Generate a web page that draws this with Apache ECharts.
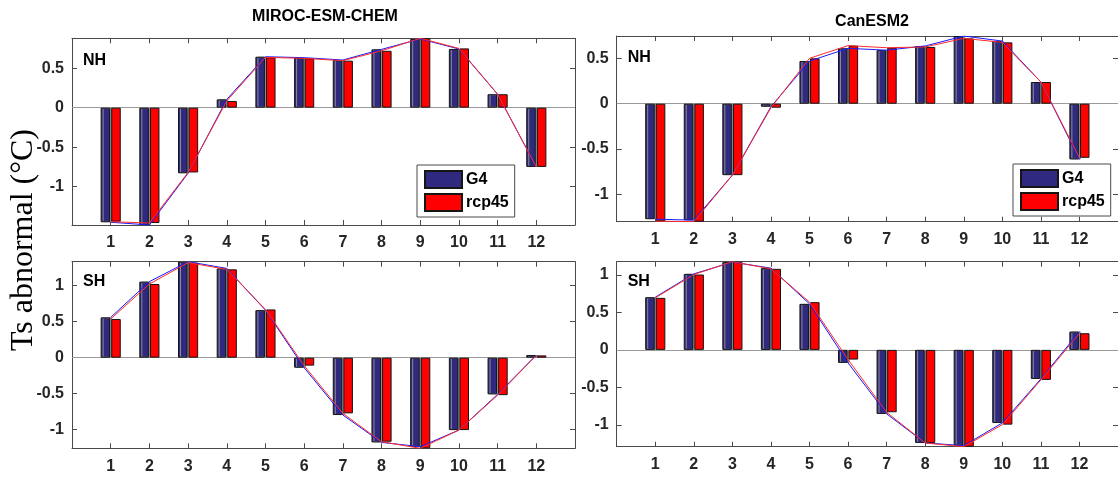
<!DOCTYPE html>
<html>
<head>
<meta charset="utf-8">
<title>Ts abnormal – monthly, G4 vs rcp45</title>
<script src="https://cdn.jsdelivr.net/npm/echarts@6.0.0/dist/echarts.min.js"></script>
<style>
  html, body { margin: 0; padding: 0; background: #ffffff; }
  #chart { width: 1118px; height: 480px; }
</style>
</head>
<body>
<div id="chart"></div>
<script>
// Months on the x axis
const months = [1, 2, 3, 4, 5, 6, 7, 8, 9, 10, 11, 12];

// MIROC-ESM-CHEM, northern hemisphere (°C)
const mirocNhG4  = [-1.45, -1.485, -0.83, 0.105, 0.645, 0.633, 0.603, 0.738, 0.87, 0.743, 0.17, -0.75];
const mirocNhRcp = [-1.443, -1.46, -0.82, 0.085, 0.637, 0.624, 0.595, 0.72, 0.878, 0.75, 0.17, -0.75];
// MIROC-ESM-CHEM, southern hemisphere (°C)
const mirocShG4  = [0.56, 1.056, 1.333, 1.24, 0.66, -0.139, -0.796, -1.176, -1.236, -1.005, -0.509, 0.037];
const mirocShRcp = [0.537, 1.023, 1.32, 1.227, 0.67, -0.11, -0.773, -1.167, -1.258, -1.005, -0.52, 0.032];
// CanESM2, northern hemisphere (°C)
const canNhG4  = [-1.272, -1.283, -0.787, -0.033, 0.47, 0.61, 0.59, 0.636, 0.746, 0.69, 0.239, -0.614];
const canNhRcp = [-1.294, -1.30, -0.787, -0.044, 0.5, 0.64, 0.617, 0.625, 0.72, 0.676, 0.239, -0.596];
// CanESM2, southern hemisphere (°C)
const canShG4  = [0.702, 1.013, 1.169, 1.089, 0.613, -0.173, -0.853, -1.24, -1.276, -0.973, -0.387, 0.244];
const canShRcp = [0.693, 1.004, 1.175, 1.08, 0.636, -0.129, -0.831, -1.24, -1.29, -0.996, -0.4, 0.222];

// Tick values on the temperature axes
const yTicksNh = [-1, -0.5, 0, 0.5];
const yTicksSh = [-1, -0.5, 0, 0.5, 1];

const seriesNames = ['G4', 'rcp45'];
const modelTitles = ['MIROC-ESM-CHEM', 'CanESM2'];
const hemiLabels = ['NH', 'SH'];

// ---- layout and styling ----
const SANS = '"Liberation Sans", Arial, Helvetica, sans-serif';
const AXIS_COLOR = '#262626';
const BOX_COLOR = '#4a4a4a';
const G4_FILL = '#2f2a80';
const RCP_FILL = '#ff0000';

const panels = [
  { g4: mirocNhG4, rcp: mirocNhRcp, ticks: yTicksNh, hemi: hemiLabels[0],
    grid: { left: 72, top: 38.3, width: 503, height: 186.7 } },
  { g4: canNhG4, rcp: canNhRcp, ticks: yTicksNh, hemi: hemiLabels[0],
    grid: { left: 616.7, top: 36, width: 506.3, height: 185.7 } },
  { g4: mirocShG4, rcp: mirocShRcp, ticks: yTicksSh, hemi: hemiLabels[1],
    grid: { left: 72, top: 261.7, width: 503, height: 186.6 } },
  { g4: canShG4, rcp: canShRcp, ticks: yTicksSh, hemi: hemiLabels[1],
    grid: { left: 616.7, top: 261.7, width: 506.3, height: 185 } }
];

const labelFont = { color: AXIS_COLOR, fontSize: 16, fontWeight: 'bold', fontFamily: SANS };
const lineCol = { color: BOX_COLOR, width: 1 };

const grids = [], xAxes = [], yAxes = [], series = [], graphics = [];

panels.forEach((p, i) => {
  grids.push(Object.assign({ containLabel: false }, p.grid));
  const all = p.g4.concat(p.rcp);
  const yMin = Math.min.apply(null, all);
  const yMax = Math.max.apply(null, all);

  // bottom and top month axes
  ['bottom', 'top'].forEach(pos => {
    xAxes.push({
      type: 'value', gridIndex: i, position: pos, min: 0, max: 13,
      axisLine: { show: true, onZero: false, lineStyle: lineCol },
      axisTick: { show: true, inside: true, length: 5, customValues: months, lineStyle: lineCol },
      axisLabel: pos === 'bottom'
        ? Object.assign({ show: true, margin: 10, customValues: months }, labelFont)
        : { show: false },
      splitLine: { show: false }
    });
  });
  // left and right temperature axes
  ['left', 'right'].forEach(pos => {
    yAxes.push({
      type: 'value', gridIndex: i, position: pos, min: yMin, max: yMax,
      axisLine: { show: true, onZero: false, lineStyle: lineCol },
      axisTick: { show: true, inside: true, length: 5, customValues: p.ticks, lineStyle: lineCol },
      axisLabel: pos === 'left'
        ? Object.assign({ show: true, margin: 8, customValues: p.ticks }, labelFont)
        : { show: false },
      splitLine: { show: false }
    });
  });

  const xi = i * 2, yi = i * 2;
  series.push({
    name: seriesNames[0], type: 'bar', xAxisIndex: xi, yAxisIndex: yi,
    data: months.map((m, k) => [m, p.g4[k]]),
    barWidth: 9.5, barGap: '12%',
    itemStyle: { color: G4_FILL, borderColor: '#151515', borderWidth: 1,
                 shadowColor: '#8c8c8c', shadowOffsetX: 2, shadowBlur: 0 },
    markLine: {
      silent: true, symbol: ['none', 'none'], label: { show: false },
      lineStyle: { color: '#9a9a9a', type: 'solid', width: 1 },
      data: [{ yAxis: 0 }], z: 1
    },
    z: 2
  });
  series.push({
    name: seriesNames[1], type: 'bar', xAxisIndex: xi, yAxisIndex: yi,
    data: months.map((m, k) => [m, p.rcp[k]]),
    barWidth: 9.5, barGap: '12%',
    itemStyle: { color: RCP_FILL, borderColor: '#151515', borderWidth: 1 },
    z: 2
  });
  series.push({
    name: 'G4 curve', type: 'line', xAxisIndex: xi, yAxisIndex: yi,
    data: months.map((m, k) => [m, p.g4[k]]),
    symbol: 'none', lineStyle: { color: '#1a1aff', width: 1 }, z: 4, silent: true
  });
  series.push({
    name: 'rcp45 curve', type: 'line', xAxisIndex: xi, yAxisIndex: yi,
    data: months.map((m, k) => [m, p.rcp[k]]),
    symbol: 'none', lineStyle: { color: '#ff2a2a', width: 1 }, z: 5, silent: true
  });

  // NH / SH tag in the upper-left corner of each panel
  graphics.push({
    type: 'text', left: p.grid.left + 11, top: p.grid.top + (i < 2 ? 14 : 12),
    style: { text: p.hemi, font: 'bold 16px ' + SANS, fill: '#000' }, z: 10
  });
});

// model titles above the columns
graphics.push({
  type: 'text', x: 325, y: 17,
  style: { text: modelTitles[0], font: 'bold 16px ' + SANS, fill: '#000', align: 'center', verticalAlign: 'middle' }
});
graphics.push({
  type: 'text', x: 872, y: 22,
  style: { text: modelTitles[1], font: 'bold 16px ' + SANS, fill: '#000', align: 'center', verticalAlign: 'middle' }
});
// shared y-axis title
graphics.push({
  type: 'text', x: 24, y: 240, rotation: Math.PI / 2,
  style: { text: 'Ts abnormal (°C)', font: '32px "Liberation Serif", "Times New Roman", serif',
           fill: '#000', align: 'center', verticalAlign: 'middle' }
});

const legendBase = {
  data: seriesNames, orient: 'vertical', icon: 'rect',
  itemWidth: 37, itemHeight: 17, itemGap: 4, padding: [5, 6, 5, 7],
  borderColor: BOX_COLOR, borderWidth: 1, backgroundColor: '#fff',
  selectedMode: false,
  textStyle: { fontSize: 16, fontWeight: 'bold', fontFamily: SANS, color: '#000', padding: [0, 0, 0, -1] }
};

const chart = echarts.init(document.getElementById('chart'), null, { renderer: 'canvas' });
chart.setOption({
  animation: false,
  backgroundColor: '#ffffff',
  grid: grids,
  xAxis: xAxes,
  yAxis: yAxes,
  legend: [
    Object.assign({ left: 417, top: 165 }, legendBase),
    Object.assign({ left: 1013, top: 164 }, legendBase)
  ],
  series: series,
  graphic: graphics
});
</script>
</body>
</html>
